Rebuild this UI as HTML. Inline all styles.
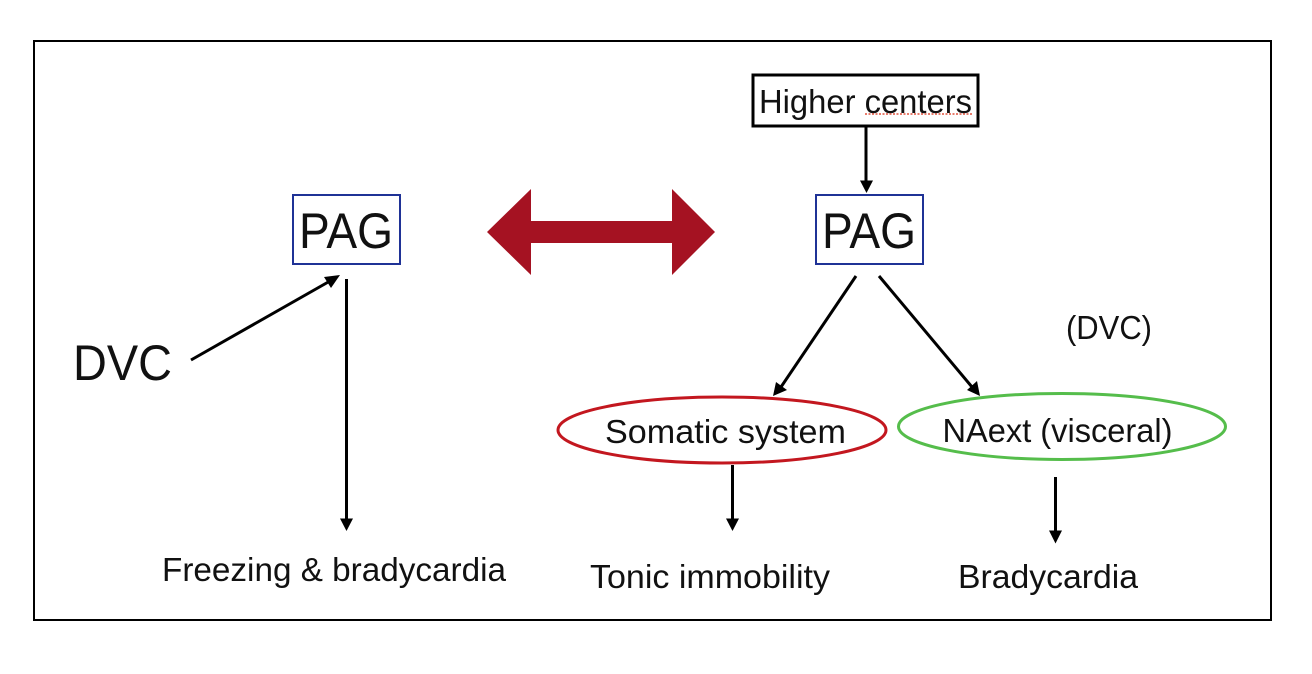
<!DOCTYPE html>
<html><head><meta charset="utf-8"><style>
html,body{margin:0;padding:0;background:#fff;width:1312px;height:674px;overflow:hidden}
svg{display:block}
text{font-family:"Liberation Sans",sans-serif;fill:#111}
</style></head><body>
<svg width="1312" height="674" viewBox="0 0 1312 674" xmlns="http://www.w3.org/2000/svg">
<rect x="34" y="41" width="1237" height="579" fill="#fff" stroke="#000" stroke-width="2"/>
<rect x="753" y="75" width="225" height="51" fill="#fff" stroke="#000" stroke-width="3"/>
<text x="865.500" y="113" font-size="33" text-anchor="middle" textLength="213" lengthAdjust="spacingAndGlyphs">Higher centers</text>
<line x1="865" y1="114" x2="972" y2="114" stroke="#e0503c" stroke-width="1.500" stroke-dasharray="2 1.500"/>
<rect x="293" y="195" width="107" height="69" fill="#fff" stroke="#1f3296" stroke-width="2"/>
<text x="346" y="248" font-size="50" text-anchor="middle" textLength="94" lengthAdjust="spacingAndGlyphs">PAG</text>
<rect x="816" y="195" width="107" height="69" fill="#fff" stroke="#1f3296" stroke-width="2"/>
<text x="869" y="248" font-size="50" text-anchor="middle" textLength="94" lengthAdjust="spacingAndGlyphs">PAG</text>
<polygon points="487,232 531,189 531,221 672,221 672,189 715,232 672,275 672,243 531,243 531,275" fill="#a51222"/>
<line x1="866" y1="126" x2="866" y2="182" stroke="#000" stroke-width="3"/>
<polygon points="860,180.500 873,180.500 866.500,193" fill="#000"/>
<line x1="191" y1="360" x2="330" y2="281" stroke="#000" stroke-width="3"/>
<polygon points="340,275 331,288 324,277" fill="#000"/>
<line x1="346.500" y1="279" x2="346.500" y2="520" stroke="#000" stroke-width="3"/>
<polygon points="340,518.500 353,518.500 346.500,531" fill="#000"/>
<text x="73" y="380" font-size="50" textLength="99" lengthAdjust="spacingAndGlyphs">DVC</text>
<line x1="856" y1="276" x2="781" y2="387" stroke="#000" stroke-width="3"/>
<polygon points="773,396 776,382 787,390" fill="#000"/>
<line x1="879" y1="276" x2="972" y2="387" stroke="#000" stroke-width="3"/>
<polygon points="980,396 967,390 977,381" fill="#000"/>
<ellipse cx="722" cy="430" rx="164" ry="33" fill="#fff" stroke="#c3171f" stroke-width="3"/>
<ellipse cx="1062" cy="426.500" rx="163.500" ry="33" fill="#fff" stroke="#55bd4b" stroke-width="3"/>
<text x="725.500" y="443" font-size="33" text-anchor="middle" textLength="241" lengthAdjust="spacingAndGlyphs">Somatic system</text>
<text x="1057.500" y="442" font-size="33" text-anchor="middle" textLength="230" lengthAdjust="spacingAndGlyphs">NAext (visceral)</text>
<text x="1109" y="339" font-size="33" text-anchor="middle" textLength="86" lengthAdjust="spacingAndGlyphs">(DVC)</text>
<line x1="732.500" y1="465" x2="732.500" y2="520" stroke="#000" stroke-width="3"/>
<polygon points="726,518.500 739,518.500 732.500,531" fill="#000"/>
<line x1="1055.500" y1="477" x2="1055.500" y2="532" stroke="#000" stroke-width="3"/>
<polygon points="1049,530.500 1062,530.500 1055.500,543.500" fill="#000"/>
<text x="334" y="581" font-size="33" text-anchor="middle" textLength="344" lengthAdjust="spacingAndGlyphs">Freezing &amp; bradycardia</text>
<text x="710" y="588" font-size="33" text-anchor="middle" textLength="240" lengthAdjust="spacingAndGlyphs">Tonic immobility</text>
<text x="1048" y="588" font-size="33" text-anchor="middle" textLength="180" lengthAdjust="spacingAndGlyphs">Bradycardia</text>
</svg>
</body></html>
